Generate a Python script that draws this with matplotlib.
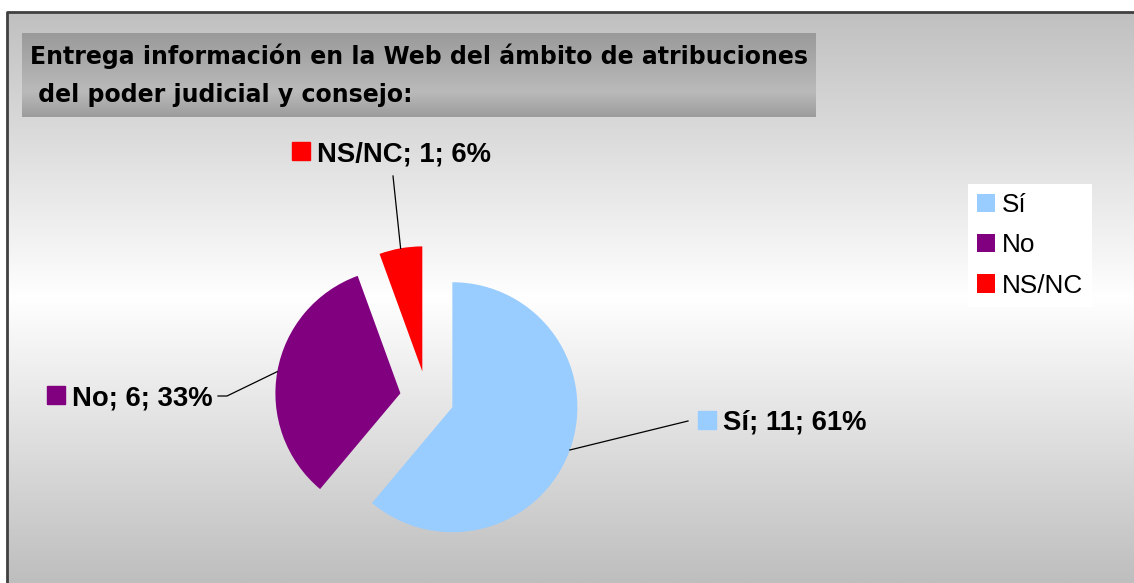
import numpy as np
import matplotlib.pyplot as plt
from matplotlib.colors import LinearSegmentedColormap
from matplotlib.patches import Rectangle

# data
categories = ["Sí", "No", "NS/NC"]
counts = [11, 6, 1]
colors = ["#99CCFF", "#800080", "#FF0000"]
title_lines = ["Entrega información en la Web del ámbito de atribuciones",
               " del poder judicial y consejo:"]

W, H = 1134, 583
plt.rcParams['font.family'] = ['Liberation Sans', 'DejaVu Sans']

fig = plt.figure(figsize=(W / 100, H / 100), dpi=100)
ax = fig.add_axes([0, 0, 1, 1])


def py(y):
    # pixel row (from top) -> data y
    return H - y


# background of chart area: gray -> white -> gray
bg = LinearSegmentedColormap.from_list("bg", [(0, "#c0c0c0"), (0.5, "#ffffff"), (1, "#bebebe")])
grad = np.linspace(0, 1, 256).reshape(-1, 1)
ax.imshow(grad, cmap=bg, aspect="auto", extent=(7, W, py(H), py(12)), zorder=0)
ax.plot([7, 7, W], [py(H), py(12), py(12)], color="#404040", lw=2, zorder=1, solid_capstyle="butt")

# title box
tb = LinearSegmentedColormap.from_list("tb", [(0, "#9a9a9a"), (0.7, "#bababa"), (1, "#9c9c9c")])
ax.imshow(grad, cmap=tb, aspect="auto", extent=(22, 816, py(117), py(33)), zorder=1)
for i, line in enumerate(title_lines):
    ax.text(30, py(64 + 38 * i), line, fontsize=17, fontweight="bold", family="DejaVu Sans",
            ha="left", va="baseline", zorder=2)

# pie
cx, cy, radius, expl = 427, py(398), 125, 27
wedges, _ = ax.pie(counts, colors=colors, startangle=90, counterclock=False,
                   explode=[expl] * len(counts), radius=radius, center=(cx, cy),
                   wedgeprops=dict(linewidth=0), frame=True)

total = sum(counts)
label_pos = [(688, 421, 723, 430), (227, 396, 72, 405), (393, 176, 317, 161)]
for w, cat, n, c, (lx, ly, tx, ty) in zip(wedges, categories, counts, colors, label_pos):
    th = np.deg2rad((w.theta1 + w.theta2) / 2)
    x0 = w.center[0] + radius * np.cos(th)
    y0 = w.center[1] + radius * np.sin(th)
    if cat == "No":
        ax.plot([x0, lx, lx - 9], [y0, py(ly), py(ly)], color="black", lw=0.9, zorder=3)
    else:
        ax.plot([x0, lx], [y0, py(ly)], color="black", lw=0.9, zorder=3)
    ax.add_patch(Rectangle((tx - 25, py(ty - 1)), 18, 18, color=c, zorder=3))
    ax.text(tx, py(ty), f"{cat}; {n}; {round(100 * n / total)}%", fontsize=19.8,
            fontweight="bold", ha="left", va="baseline", zorder=3)

leg = ax.legend(wedges, categories, loc="upper left", bbox_to_anchor=(968 / W, 1 - 184 / H),
                fontsize=18.8, frameon=True, fancybox=False, framealpha=1, edgecolor="none",
                facecolor="white", handlelength=0.7, handleheight=0.7, handletextpad=0.25,
                labelspacing=0.62, borderpad=0.35, borderaxespad=0)

ax.set_xlim(0, W)
ax.set_ylim(0, H)
ax.axis("off")
fig.savefig("out.png", dpi=100, facecolor="white")
